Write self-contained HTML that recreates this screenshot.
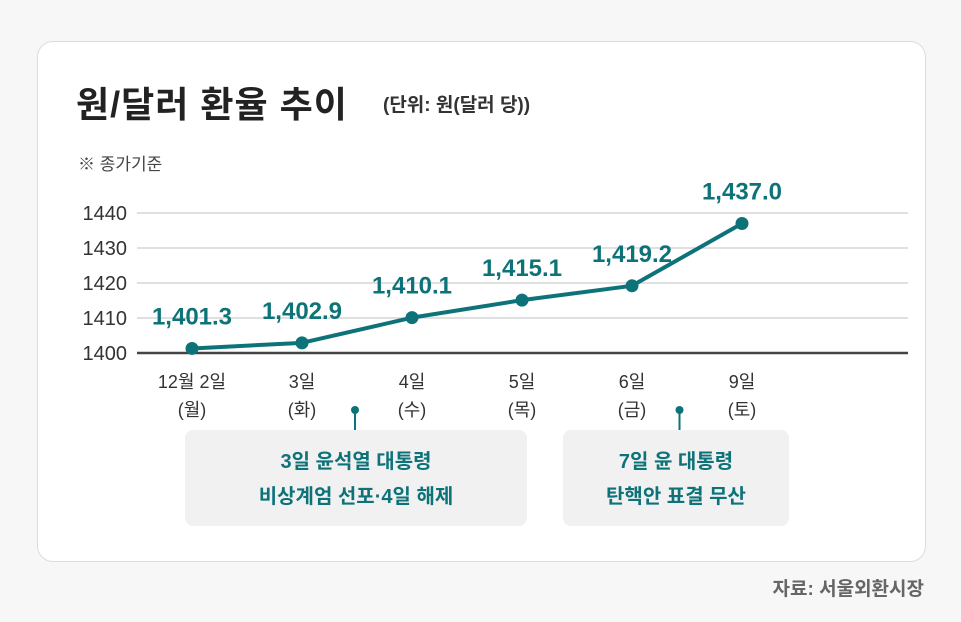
<!DOCTYPE html>
<html><head><meta charset="utf-8"><style>
body{margin:0;width:961px;height:622px;background:#f7f7f7;font-family:"Liberation Sans","Noto Sans CJK KR",sans-serif;position:relative;overflow:hidden}
.card{position:absolute;left:37px;top:41px;width:887px;height:519px;background:#fff;border:1px solid #dcdcdc;border-radius:16px}
.t{position:absolute;white-space:nowrap}
.box{position:absolute;background:#f1f1f1;border-radius:8px;color:#0e7379;font-weight:bold;font-size:20px;text-align:center;line-height:35px;padding-top:15px;box-sizing:border-box}
</style></head><body>
<div class="card"></div>
<div class="t" style="left:76px;top:76px;font-size:36px;font-weight:bold;color:#222;letter-spacing:1px">원/달러 환율 추이</div>
<div class="t" style="left:383px;top:90px;font-size:19px;font-weight:bold;color:#333">(단위: 원(달러 당))</div>
<div class="t" style="left:78px;top:150px;font-size:17px;color:#444">※ 종가기준</div>
<svg id="c" width="961" height="622" style="position:absolute;left:0;top:0"></svg>
<div class="box" style="left:185px;top:430px;width:342px;height:96px">3일 윤석열 대통령<br>비상계엄 선포·4일 해제</div>
<div class="box" style="left:563px;top:430px;width:226px;height:96px">7일 윤 대통령<br>탄핵안 표결 무산</div>
<div class="t" style="right:37px;top:574px;font-size:19px;font-weight:bold;color:#666">자료: 서울외환시장</div>
<script>
const categories=["12월 2일","3일","4일","5일","6일","9일"];
const weekdays=["(월)","(화)","(수)","(목)","(금)","(토)"];
const values=[1401.3,1402.9,1410.1,1415.1,1419.2,1437.0];
const valueLabels=["1,401.3","1,402.9","1,410.1","1,415.1","1,419.2","1,437.0"];
const yTicks=[1400,1410,1420,1430,1440];
const annotationAt=[1.5,4.45];
const svg=document.getElementById('c');const NS='http://www.w3.org/2000/svg';
const x=i=>192+i*110;const y=v=>353-(v-1400)*3.5;
function mk(t,a,txt){const e=document.createElementNS(NS,t);for(const k in a)e.setAttribute(k,a[k]);if(txt!=null)e.textContent=txt;svg.appendChild(e);return e;}
yTicks.forEach(v=>{const l=mk('line',{x1:137,x2:908,y1:y(v),y2:y(v),stroke:v===1400?'#444':'#d6d6d6','stroke-width':v===1400?2.5:1.5});


const t=mk('text',{x:127,y:y(v)+7,'text-anchor':'end','font-size':20,'font-weight':'500',fill:'#333','font-family':'Liberation Sans, sans-serif'},String(v));

});
categories.forEach((c,i)=>{const t=mk('text',{x:x(i),y:388,'text-anchor':'middle','font-size':18,fill:'#333','font-family':'Liberation Sans, Noto Sans CJK KR, sans-serif'},c);


const w=mk('text',{x:x(i),y:416,'text-anchor':'middle','font-size':18,fill:'#333','font-family':'Liberation Sans, Noto Sans CJK KR, sans-serif'},weekdays[i]);

});
const p=mk('polyline',{points:values.map((v,i)=>x(i)+','+y(v)).join(' '),fill:'none',stroke:'#0e7379','stroke-width':4,'stroke-linejoin':'round'});


values.forEach((v,i)=>{const d=mk('circle',{cx:x(i),cy:y(v),r:6.5,fill:'#0e7379'});


const t=mk('text',{x:x(i),y:y(v)-24,'text-anchor':'middle','font-size':24,'font-weight':'bold',fill:'#0e7379','font-family':'Liberation Sans, sans-serif'},valueLabels[i]);

});
annotationAt.forEach((a,i)=>{const cx=x(0)+a*110-2;const l=mk('line',{x1:cx,x2:cx,y1:410,y2:430,stroke:'#0e7379','stroke-width':2});


const d=mk('circle',{cx:cx,cy:410,r:4,fill:'#0e7379'});

});
</script>
</body></html>
